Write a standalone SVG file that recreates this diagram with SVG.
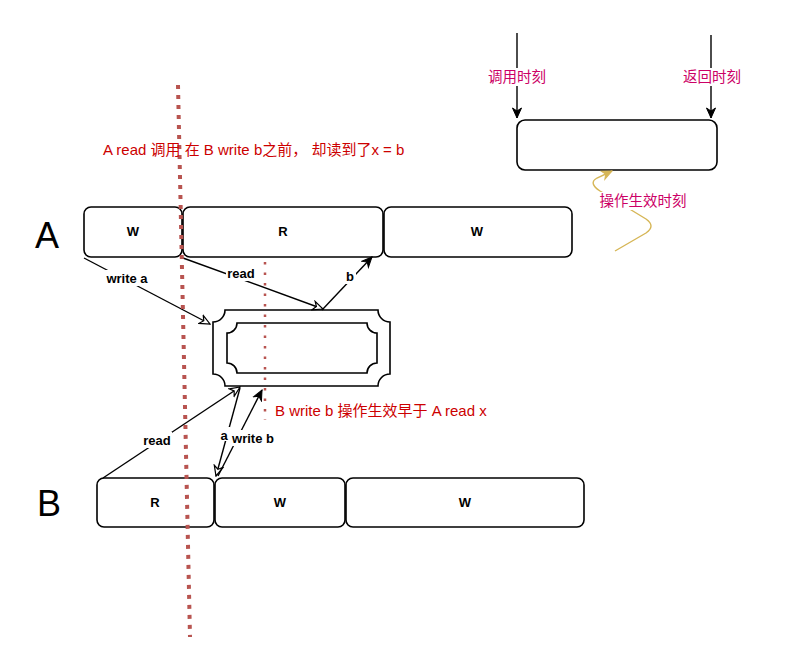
<svg xmlns="http://www.w3.org/2000/svg" width="800" height="669" viewBox="0 0 800 669">
<defs>
<style>
.box{fill:#fff;stroke:#000;stroke-width:1.6}
.lbl{font-family:"Liberation Sans",Arial,sans-serif;font-size:13px;font-weight:bold;fill:#000;text-anchor:middle}
.big{font-family:"Liberation Sans",Arial,sans-serif;font-size:36px;fill:#000;text-anchor:middle}
.note{font-family:"Liberation Sans","Noto Sans CJK SC",sans-serif;font-size:15px;fill:#cc0000}
.mag{font-family:"Liberation Sans","Noto Sans CJK SC",sans-serif;font-size:14.5px;fill:#cc0066;text-anchor:middle}
.edge{fill:none;stroke:#000;stroke-width:1.4}
.bg{fill:#fff}
</style>
<marker id="open" viewBox="0 0 12 12" refX="11" refY="6" markerWidth="12" markerHeight="12" markerUnits="userSpaceOnUse" orient="auto">
<path d="M1,1.5 L11,6 L1,10.5 L4,6 Z" fill="#fff" stroke="#000" stroke-width="1.2"/>
</marker>
<marker id="fill" viewBox="0 0 12 12" refX="11" refY="6" markerWidth="12" markerHeight="12" markerUnits="userSpaceOnUse" orient="auto">
<path d="M1,1.5 L11,6 L1,10.5 L4,6 Z" fill="#000" stroke="#000" stroke-width="1"/>
</marker>
<marker id="gold" viewBox="0 0 12 12" refX="11" refY="6" markerWidth="12" markerHeight="12" markerUnits="userSpaceOnUse" orient="auto">
<path d="M1,1.5 L11,6 L1,10.5 L4,6 Z" fill="#d6b656" stroke="#d6b656" stroke-width="1"/>
</marker>
</defs>
<rect width="800" height="669" fill="#fff"/>

<g id="legend">
<rect class="box" x="517" y="120" width="200" height="50" rx="8"/>
</g>

<g id="rowA">
<text class="big" x="47" y="248">A</text>
<g id="A-W1"><rect class="box" x="84" y="207" width="98" height="50" rx="7"/><text class="lbl" x="133" y="236">W</text></g>
<g id="A-R"><rect class="box" x="183" y="207" width="200" height="50" rx="7"/><text class="lbl" x="283" y="236">R</text></g>
<g id="A-W2"><rect class="box" x="384" y="207" width="188" height="50" rx="7"/><text class="lbl" x="477" y="236">W</text></g>
</g>

<g id="rowB">
<text class="big" x="49" y="516">B</text>
<g id="B-R"><rect class="box" x="97" y="478" width="117" height="49" rx="7"/><text class="lbl" x="155" y="507">R</text></g>
<g id="B-W1"><rect class="box" x="215" y="478" width="130" height="49" rx="7"/><text class="lbl" x="280" y="507">W</text></g>
<g id="B-W2"><rect class="box" x="346" y="478" width="238" height="49" rx="7"/><text class="lbl" x="465" y="507">W</text></g>
</g>

<g id="register">
<path class="box" d="M225,310 H378 A12,12 0 0 0 390,322 V374 A12,12 0 0 0 378,386 H225 A12,12 0 0 0 213,374 V322 A12,12 0 0 0 225,310 Z"/>
<path fill="none" stroke="#000" stroke-width="1.6" d="M237,323 H367 A10,10 0 0 0 377,333 V363 A10,10 0 0 0 367,373 H237 A10,10 0 0 0 227,363 V333 A10,10 0 0 0 237,323 Z"/>
</g>

<g id="connectors">
<line class="edge" x1="517" y1="33" x2="517" y2="118" marker-end="url(#fill)"/>
<line class="edge" x1="711" y1="35" x2="711" y2="118" marker-end="url(#fill)"/>
<path d="M615,251 L646,233 Q656,226 646,219 L600,191 Q588,183 597,178 L612,171" fill="none" stroke="#d6b656" stroke-width="1.4" marker-end="url(#gold)"/>

<line class="edge" x1="84" y1="258" x2="210" y2="324" marker-end="url(#open)"/>
<line class="edge" x1="183" y1="258" x2="323" y2="309" marker-end="url(#open)"/>
<line class="edge" x1="322" y1="310" x2="372" y2="257" marker-end="url(#fill)"/>
<line class="edge" x1="103" y1="478" x2="240" y2="387" marker-end="url(#open)"/>
<line class="edge" x1="240" y1="388" x2="216" y2="476" marker-end="url(#open)"/>
<line class="edge" x1="218" y1="476" x2="262" y2="390" marker-end="url(#fill)"/>

<rect class="bg" x="103" y="270" width="48" height="16"/>
<text class="lbl" x="127" y="283">write a</text>
<rect class="bg" x="226" y="265" width="30" height="16"/>
<text class="lbl" x="241" y="278">read</text>
<rect class="bg" x="344" y="268" width="12" height="16"/>
<text class="lbl" x="350" y="281">b</text>
<rect class="bg" x="141" y="432" width="31" height="16"/>
<text class="lbl" x="157" y="445">read</text>
<rect class="bg" x="218" y="427" width="12" height="14"/>
<text class="lbl" x="224" y="440">a</text>
<rect class="bg" x="230" y="430" width="46" height="16"/>
<text class="lbl" x="253" y="443">write b</text>

<rect class="bg" x="487" y="68" width="61" height="18"/>
<text class="mag" x="517" y="82">调用时刻</text>
<rect class="bg" x="681" y="68" width="62" height="18"/>
<text class="mag" x="712" y="82">返回时刻</text>
<rect class="bg" x="598" y="192" width="90" height="18"/>
<text class="mag" x="643" y="206">操作生效时刻</text>
</g>

<g id="notes">
<line x1="178" y1="85" x2="190" y2="637" stroke="#b85450" stroke-width="4" stroke-dasharray="4 6"/>
<line x1="265" y1="262" x2="265" y2="420" stroke="#b85450" stroke-width="2.5" stroke-dasharray="2.5 8"/>
<text class="note" x="103" y="155">A read 调用 在 B write b之前， 却读到了x = b</text>
<text class="note" x="275" y="416">B write b 操作生效早于 A read x</text>
</g>
</svg>
